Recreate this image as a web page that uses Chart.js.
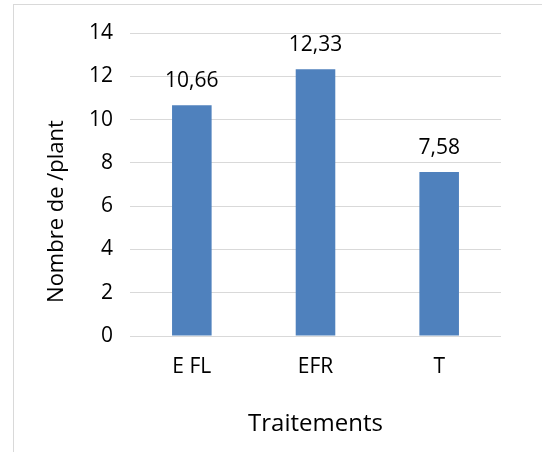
<!DOCTYPE html>
<html>
<head>
<meta charset="utf-8">
<script src="https://cdn.jsdelivr.net/npm/chart.js@4"></script>
<style>
  body { margin: 0; background: #fff; }
  #frame { position: absolute; left: 13px; top: 4px; width: 600px; height: 500px; border: 1px solid #d9d9d9; }
  #myChart { position: absolute; left: 0; top: 0; }
</style>
</head>
<body>
<div id="frame"></div>
<canvas id="myChart" width="542" height="452"></canvas>
<script>
const traitements = ['E FL', 'EFR', 'T'];
const valeurs = [10.66, 12.33, 7.58];
const yTitle = 'Nombre de /plant';
const xTitle = 'Traitements';

const fontName = '"Open Sans", sans-serif';

// valeurs au-dessus des barres
const labelPlugin = {
  id: 'barLabels',
  afterDatasetsDraw(chart) {
    const c = chart.ctx;
    const meta = chart.getDatasetMeta(0);
    c.save();
    c.font = '21px ' + fontName;
    c.fillStyle = '#000';
    c.textAlign = 'center';
    c.textBaseline = 'alphabetic';
    meta.data.forEach((bar, i) => {
      c.fillText(valeurs[i].toFixed(2).replace('.', ','), bar.x, bar.y - 18);
    });
    c.restore();
  }
};

// titre de l'axe Y (décalé comme dans Excel)
const yTitlePlugin = {
  id: 'yTitle',
  afterDraw(chart) {
    const c = chart.ctx;
    c.save();
    c.translate(62.5, 211.5);
    c.rotate(-Math.PI / 2);
    c.font = '22px ' + fontName;
    c.fillStyle = '#000';
    c.textAlign = 'center';
    c.textBaseline = 'alphabetic';
    c.fillText(yTitle, 0, 0);
    c.restore();
  }
};

const ctx = document.getElementById('myChart');
const myChart = new Chart(ctx, {
  type: 'bar',
  data: {
    labels: traitements,
    datasets: [{
      data: valeurs,
      backgroundColor: '#4f81bd',
      barPercentage: 1,
      categoryPercentage: 0.32
    }]
  },
  options: {
    responsive: false,
    animation: false,
    layout: { padding: { top: 33, right: 41, left: 0, bottom: 0 } },
    plugins: { legend: { display: false }, tooltip: { enabled: false } },
    scales: {
      y: {
        min: 0,
        max: 14,
        ticks: { stepSize: 2, padding: 17, color: '#000', font: { family: fontName, size: 21 } },
        grid: { color: '#d9d9d9', drawTicks: false },
        border: { display: false },
        afterFit(scale) { scale.width = 130; }
      },
      x: {
        ticks: { padding: 18, color: '#000', font: { family: fontName, size: 21 } },
        grid: { display: false, drawTicks: false },
        border: { display: false },
        title: {
          display: true,
          text: xTitle,
          color: '#000',
          font: { family: fontName, size: 24 },
          padding: { top: 0, bottom: 13 }
        },
        afterFit(scale) { scale.height = 116; }
      }
    }
  },
  plugins: [labelPlugin, yTitlePlugin]
});
</script>
</body>
</html>
